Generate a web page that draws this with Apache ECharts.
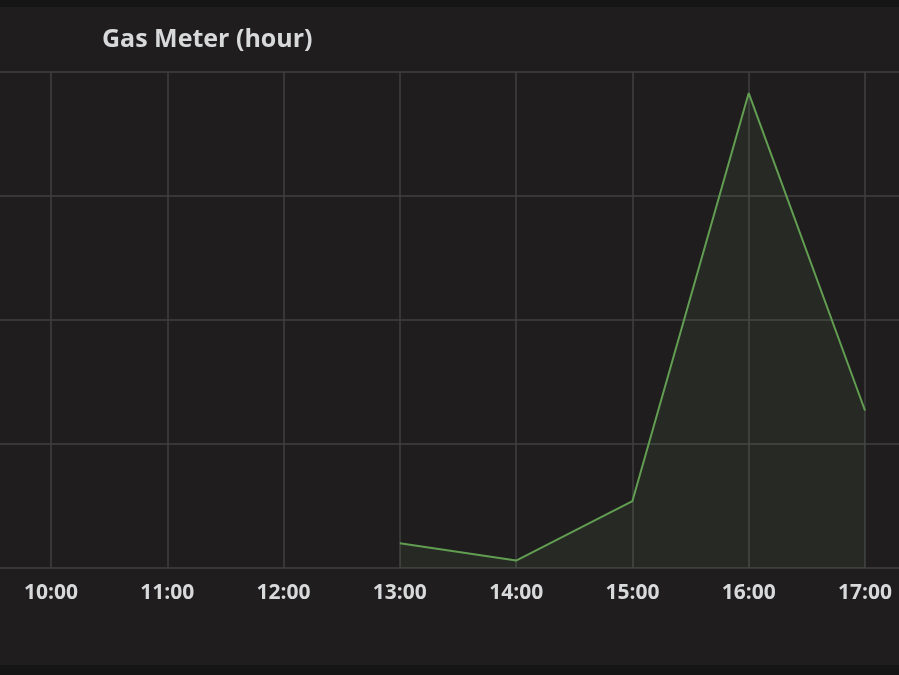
<!DOCTYPE html>
<html>
<head>
<meta charset="utf-8">
<script src="https://cdn.jsdelivr.net/npm/echarts@6/dist/echarts.min.js"></script>
<style>
html,body{margin:0;padding:0;background:#1f1d1e;}
#chart{width:899px;height:675px;}
</style>
</head>
<body>
<div id="chart"></div>
<script>
const chartTitle = 'Gas Meter (hour)';
const hours = ['10:00','11:00','12:00','13:00','14:00','15:00','16:00','17:00'];
const gasValues = [null, null, null, 0.2, 0.06, 0.54, 3.83, 1.27];
const yMin = 0, yMax = 4, yStep = 1;

const chart = echarts.init(document.getElementById('chart'));
const textColor = '#d8d9da';
const gridColor = '#414041';
const gridTop = 72, gridBottom = 675 - 568;

chart.setOption({
  backgroundColor: '#1f1d1e',
  animation: false,
  title: {
    text: chartTitle,
    left: 97, top: 22,
    textStyle: { color: textColor, fontFamily: 'Open Sans', fontWeight: 'bold', fontSize: 25 }
  },
  graphic: [
    { type: 'rect', left: 0, top: 0, shape: { width: 899, height: 7 }, style: { fill: '#151515' }, z: 100 },
    { type: 'rect', left: 0, top: 665, shape: { width: 899, height: 10 }, style: { fill: '#151515' }, z: 100 }
  ],
  grid: [
    { left: 0, right: 0, top: gridTop, bottom: gridBottom, containLabel: false },
    { left: 51, right: 34, top: gridTop, bottom: gridBottom, containLabel: false }
  ],
  xAxis: [
    { gridIndex: 0, type: 'value', min: 0, max: 1, show: false },
    {
      gridIndex: 1, type: 'category', data: hours, boundaryGap: false,
      axisLine: { show: false }, axisTick: { show: false },
      axisLabel: { color: textColor, fontFamily: 'Open Sans', fontWeight: 'bold', fontSize: 21, margin: 15 },
      splitLine: { show: true, lineStyle: { color: gridColor, width: 1.5 } }
    }
  ],
  yAxis: [
    {
      gridIndex: 0, type: 'value', min: yMin, max: yMax, interval: yStep,
      axisLine: { show: false }, axisTick: { show: false }, axisLabel: { show: false },
      splitLine: { show: true, lineStyle: { color: gridColor, width: 1.5 } }
    },
    {
      gridIndex: 1, type: 'value', min: yMin, max: yMax, interval: yStep,
      axisLine: { show: false }, axisTick: { show: false }, axisLabel: { show: false },
      splitLine: { show: false }
    }
  ],
  series: [{
    type: 'line', xAxisIndex: 1, yAxisIndex: 1,
    data: gasValues, showSymbol: false, connectNulls: false,
    lineStyle: { color: '#629e51', width: 2 },
    itemStyle: { color: '#629e51' },
    areaStyle: { color: 'rgba(126,178,109,0.12)' }
  }]
});
</script>
</body>
</html>
